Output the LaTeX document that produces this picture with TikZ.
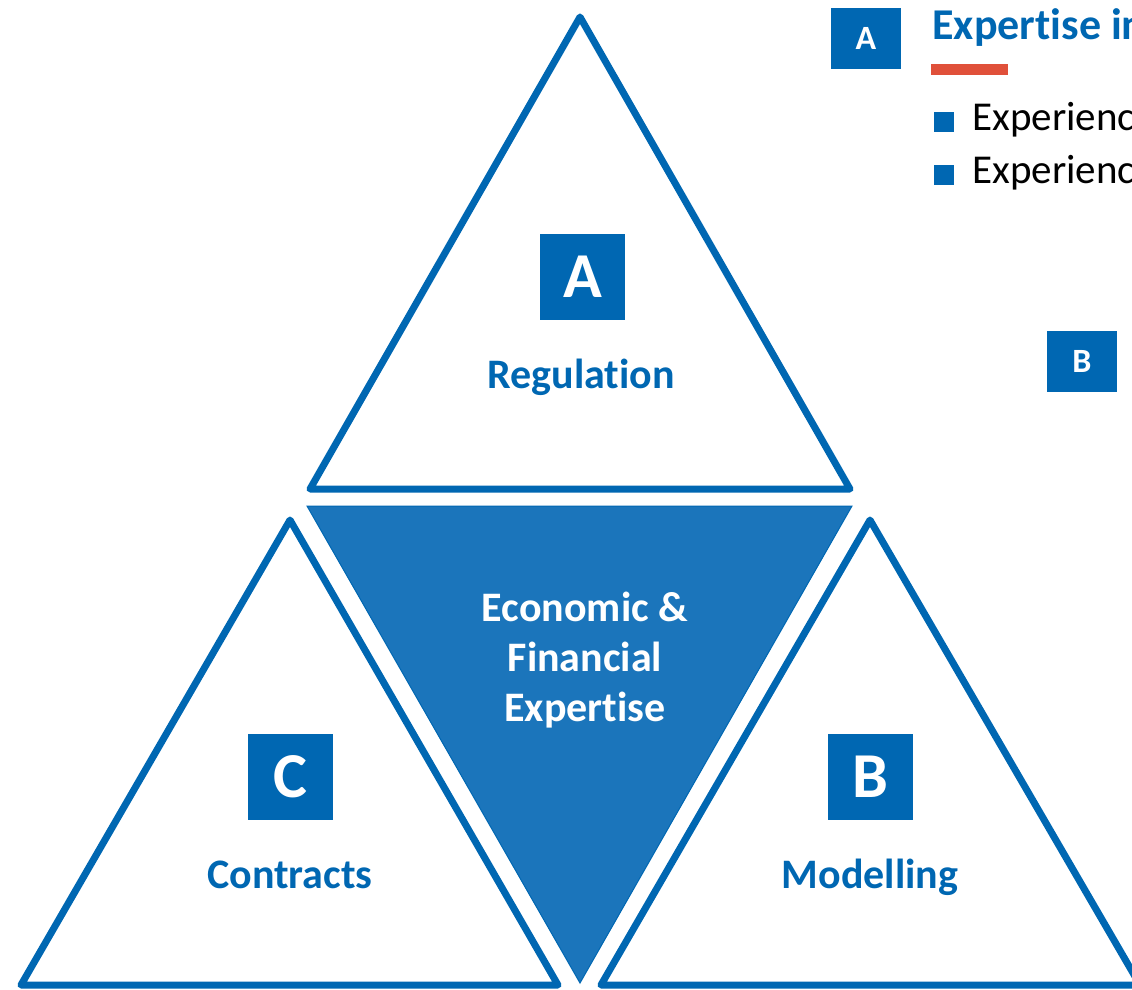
\documentclass[tikz,border=0pt]{standalone}
\usepackage{fontspec}
\setmainfont{Carlito}[Ligatures=NoCommon]
\usepackage{tikz}
\usetikzlibrary{positioning}
\definecolor{cblue}{HTML}{0067B2}
\definecolor{cfill}{HTML}{1B75BB}
\definecolor{cred}{HTML}{E0503A}
\newcommand*{\Tri}[3]{\draw[tri] (#1) -- (#2) -- (#3) -- cycle;}
\tikzset{
  tri/.style={draw=cblue, line width=3.5pt, line join=round},
  bigletter/.style={fill=cblue, text=white, inner sep=0pt,
    minimum width=42.5pt, minimum height=43pt,
    font=\fontsize{32}{38}\selectfont\bfseries},
  smallletter/.style={fill=cblue, text=white, inner sep=0pt,
    minimum width=35pt, minimum height=30.5pt,
    font=\fontsize{17}{20}\selectfont\bfseries},
  areatext/.style={text=cblue, inner sep=0pt, anchor=base,
    font=\fontsize{21}{25}\selectfont\bfseries},
  bullet/.style={fill=cblue, inner sep=0pt, minimum size=10pt},
  bullettext/.style={inner sep=0pt, anchor=base west,
    font=\fontsize{20.5}{24}\selectfont}
}

\begin{document}
\begin{tikzpicture}[x=0.5pt,y=-0.5pt]
    \useasboundingbox (0,0) rectangle (1132,990);
    % the three outlined triangles
    \Tri{580,17}{310,489}{850,489}
    \Tri{290,520}{21,985}{558,985}
    \Tri{870,520}{601,985}{1140,985}
    % filled centre
    \draw [fill=cfill, draw=cblue, line width=0.5pt]
      (307,506) -- (852,506) -- (580,983) -- cycle;
    \draw (585,660) node (core) [text=white, align=center,
      font=\fontsize{21}{25}\selectfont\bfseries]
      {Economic \&\\Financial\\Expertise};
    % letters and labels
    \draw (582.5,277) node (la) [bigletter] {A};
    \draw (581,388) node (reg) [areatext] {Regulation};
    \draw (290,777) node (lc) [bigletter] {C};
    \draw (290,888) node (con) [areatext] {Contracts};
    \draw (870,777) node (lb) [bigletter] {B};
    \draw (870,888) node (mod) [areatext] {Modelling};
    % side text
    \draw (866,38.5) node (sa) [smallletter] {A};
    \draw (932,40) node (title) [text=cblue, inner sep=0pt, anchor=base west,
      font=\fontsize{22}{26}\selectfont\bfseries] {Expertise in};
    \fill [cred] (931,64) rectangle (1008,75);
    \draw (944,122) node (b1) [bullet] {};
    \draw (972,131) node (t1) [bullettext] {Experience};
    \draw (944,175) node (b2) [bullet] {};
    \draw (972,184) node (t2) [bullettext] {Experience};
    \draw (1082,361.5) node (sb) [smallletter] {B};
  \end{tikzpicture}
\end{document}
